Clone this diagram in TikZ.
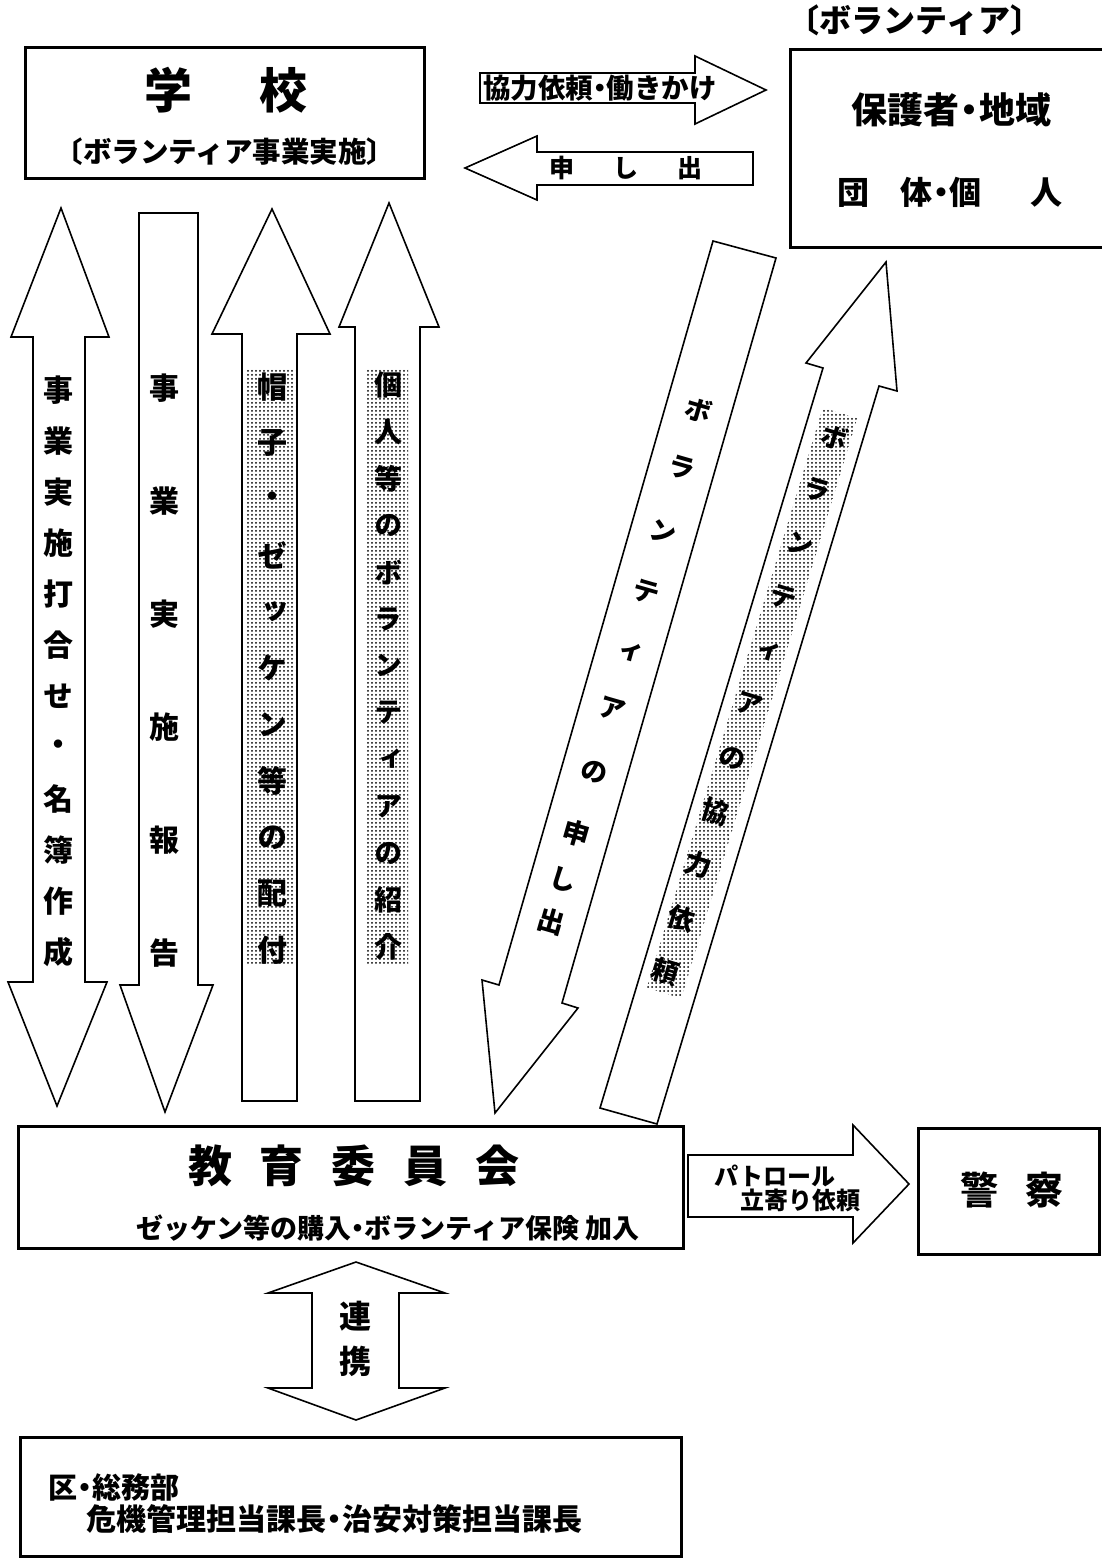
\documentclass[tikz,border=0pt]{standalone}
\usepackage{fontspec}
\setmainfont{Noto Sans CJK JP}
\newfontfamily\jpv{Noto Sans CJK JP}[RawFeature=+vert]
\usetikzlibrary{patterns}
\pgfdeclarepatternformonly{mydots}{\pgfqpoint{-1.2pt}{-1.2pt}}{\pgfqpoint{1.2pt}{1.2pt}}{\pgfqpoint{4pt}{4pt}}{\pgfpathcircle{\pgfqpoint{0pt}{0pt}}{1pt}\pgfusepath{fill}}
\newcommand\fsz[1]{\fontsize{#1}{#1}\selectfont}
\newcommand\nd{\hspace{-7pt}・\hspace{-7pt}}
\begin{document}
\begin{tikzpicture}[x=1pt,y=-1pt,
  box/.style={draw, line width=3pt, inner sep=0pt, rectangle},
  blk/.style={draw, line width=1.6pt, fill=white, line join=miter},
  dotfill/.style={pattern=mydots, pattern color=black},
  lbl/.style={inner sep=0pt, font=\bfseries},
  vt/.style={inner sep=0pt, font=\jpv\bfseries\fsz{30}},
  dg/.style={inner sep=0pt, font=\jpv\bfseries\fsz{27}},
  ]
\useasboundingbox (0,0) rectangle (1102,1563);
\fill[white] (0,0) rectangle (1102,1563);

% ---- horizontal arrows at top
\draw[blk] (480,73) -- (695,73) -- (695,56) -- (766,90) -- (695,124) -- (695,103) -- (480,103) -- cycle;
\draw[blk] (465,168) -- (537,136) -- (537,152) -- (753,152) -- (753,185) -- (537,185) -- (537,200) -- cycle;
\node[lbl, font=\bfseries\fsz{27.5}] (req1) at (600,88) {協力依頼\nd 働きかけ};
\node[lbl, font=\bfseries\fsz{25}] (req2) at (626,168) {申\hspace{39pt}し\hspace{39pt}出};

% ---- vertical arrows
\draw[blk] (61,208) -- (109,337) -- (85,337) -- (85,982) -- (107,982) -- (57,1106) -- (8,982) -- (33,982) -- (33,337) -- (11,337) -- cycle;
\draw[blk] (139,213) -- (198,213) -- (198,985) -- (213,985) -- (165,1112) -- (120,985) -- (139,985) -- cycle;
\draw[blk] (272,209) -- (330,334) -- (297,334) -- (297,1101) -- (242,1101) -- (242,334) -- (212,334) -- cycle;
\draw[blk] (389,203) -- (439,327) -- (420,327) -- (420,1101) -- (355,1101) -- (355,327) -- (339,327) -- cycle;
\fill[dotfill] (247,368) rectangle (295,965);
\fill[dotfill] (366,368) rectangle (408,963);

\foreach \c [count=\i from 0] in {事,業,実,施,打,合,せ,・,名,簿,作,成}
  \node[vt] (a\i) at (58,{390+51.1*\i}) {\c};
\foreach \c [count=\i from 0] in {事,業,実,施,報,告}
  \node[vt] (b\i) at (164,{388+113*\i}) {\c};
\foreach \c [count=\i from 0] in {帽,子,・,ゼ,ッ,ケ,ン,等,の,配,付}
  \node[vt] (c\i) at (272,{387+56.3*\i}) {\c};
\foreach \c [count=\i from 0] in {個,人,等,の,ボ,ラ,ン,テ,ィ,ア,の,紹,介}
  \node[vt, font=\jpv\bfseries\fsz{28}] (d\i) at (388,{385+46.8*\i}) {\c};

% ---- diagonal arrows
\draw[blk] (713,241) -- (776,258) -- (562,1003) -- (578,1008) -- (495,1113) -- (482,980) -- (499,985) -- cycle;
\draw[blk] (600,1108) -- (657,1124) -- (879,386) -- (897,391) -- (886,262) -- (806,363) -- (823,368) -- cycle;
\fill[dotfill] (822.8,407.8) -- (857.2,418.2) -- (681.2,998.2) -- (646.8,987.8) -- cycle;

\foreach \c/\yy [count=\i] in {ボ/410,ラ/468,ン/532,テ/592,ィ/652,ア/709,の/772,申/833,し/880,出/922}
  \node[dg, rotate=-16] (e\i) at ({744.5-0.2877*(\yy-249.5)},\yy) {\c};
\foreach \c [count=\i from 0] in {ボ,ラ,ン,テ,ィ,ア,の,協,力,依,頼}
  \node[dg, rotate=-17] (f\i) at ({834-16.9*\i},{437+53.5*\i}) {\c};

% ---- patrol arrow
\draw[blk] (688,1155) -- (853,1155) -- (853,1125) -- (909,1184) -- (853,1243) -- (853,1217) -- (688,1217) -- cycle;
\node[lbl, font=\bfseries\fsz{24}] (pat1) at (775,1176) {パトロール};
\node[lbl, font=\bfseries\fsz{24}] (pat2) at (800,1200) {立寄り依頼};

% ---- cooperation double arrow
\draw[blk] (356,1262) -- (445,1293) -- (399,1293) -- (399,1388) -- (445,1388) -- (356,1420) -- (268,1388) -- (312,1388) -- (312,1293) -- (268,1293) -- cycle;
\node[lbl, font=\bfseries\fsz{32}] (ren) at (355,1316) {連};
\node[lbl, font=\bfseries\fsz{32}] (kei) at (355,1361) {携};

% ---- boxes
\node[box, minimum width=399pt, minimum height=130pt] (school) at (224.5,113) {};
\node[lbl, font=\bfseries\fsz{48}] (schoolT) at (226,90) {学\hspace{68pt}校};
\node[lbl, font=\bfseries\fsz{28.5}] (schoolS) at (225,152) {〔ボランティア事業実施〕};

\node[lbl, font=\bfseries\fsz{32}] (volL) at (915,20) {〔ボランティア〕};
\node[box, minimum width=320pt, minimum height=197pt] (vol) at (950,148.5) {};
\node[lbl, font=\bfseries\fsz{36}] (volA) at (951,110) {保護者\hspace{-8pt}・\hspace{-8pt}地域};
\node[lbl, font=\bfseries\fsz{32}] (volB) at (950,192) {団\hspace{31pt}体\hspace{-7.5pt}・\hspace{-7.5pt}個\hspace{49pt}人};

\node[box, minimum width=665pt, minimum height=122pt] (board) at (351,1187) {};
\node[lbl, font=\bfseries\fsz{44}] (boardT) at (354,1166) {教\hspace{28pt}育\hspace{28pt}委\hspace{28pt}員\hspace{28pt}会};
\node[lbl, font=\bfseries\fsz{27}] (boardS) at (388,1228) {ゼッケン等の購入\nd ボランティア保険 加入};

\node[box, minimum width=181pt, minimum height=126pt] (police) at (1008.5,1191) {};
\node[lbl, font=\bfseries\fsz{38}] (policeT) at (1012,1190) {警\hspace{27pt}察};

\node[box, minimum width=661pt, minimum height=119pt] (ward) at (350.5,1496.5) {};
\node[lbl, font=\bfseries\fsz{29}, anchor=west] (ward1) at (48,1487) {区\nd 総務部};
\node[lbl, font=\bfseries\fsz{30}, anchor=west] (ward2) at (86,1519) {危機管理担当課長\nd 治安対策担当課長};
\end{tikzpicture}
\end{document}
